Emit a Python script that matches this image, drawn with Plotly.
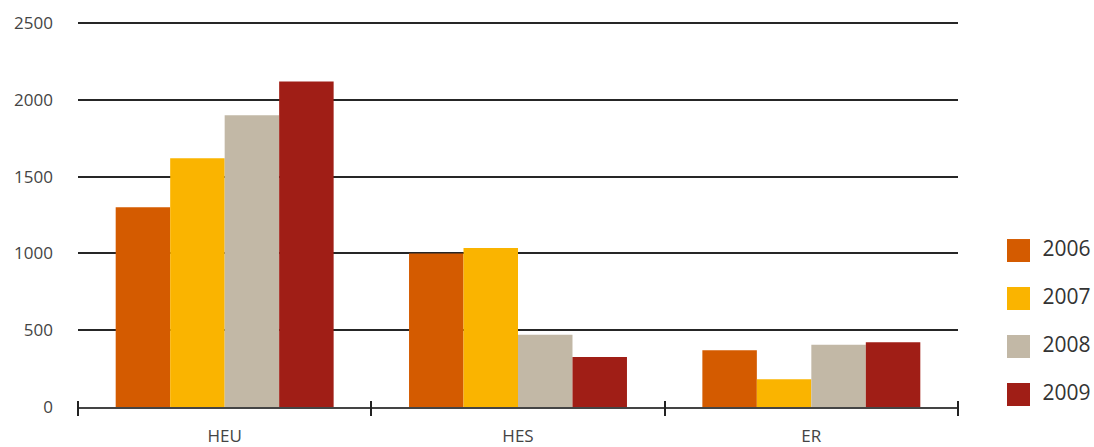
import plotly.graph_objects as go

# Categories and yearly series
categories = ["HEU", "HES", "ER"]
years = ["2006", "2007", "2008", "2009"]
values_2006 = [1300, 1000, 370]
values_2007 = [1620, 1035, 180]
values_2008 = [1900, 470, 405]
values_2009 = [2120, 325, 422]
y_ticks = [0, 500, 1000, 1500, 2000, 2500]

series = [values_2006, values_2007, values_2008, values_2009]
colors = ["#D45B00", "#FAB400", "#C2B8A6", "#A01E16"]

W, H = 1094, 447
ML, MB = 78, 40
Y_TOP = 2520
px_per_unit = 384 / 2500
MT = 23 - (Y_TOP - 2500) * px_per_unit
plot_w = W - ML
plot_h = H - MT - MB
main_right = 958

fig = go.Figure()

for name, vals, col in zip(years, series, colors):
    fig.add_trace(go.Bar(
        x=categories, y=vals, name=name, marker=dict(color=col, line=dict(width=0)),
        showlegend=False, xaxis="x", yaxis="y",
    ))

# Custom legend: large squares with the year labels beside them, on a side axis
leg_dom = (0.88, 1.0)
leg_left_px = ML + leg_dom[0] * plot_w
leg_w_px = (leg_dom[1] - leg_dom[0]) * plot_w
sq_center_px = 1018.5
leg_x_range = [leg_left_px - sq_center_px, leg_left_px - sq_center_px + leg_w_px]
row_step = 48
leg_y = [-i * row_step for i in range(len(years))]
first_row_px = 250.5

fig.add_trace(go.Scatter(
    x=[0] * len(years), y=leg_y, mode="markers",
    marker=dict(symbol="square", size=23, color=colors, line=dict(width=0)),
    showlegend=False, xaxis="x2", yaxis="y2", hoverinfo="skip", cliponaxis=False,
))
fig.add_trace(go.Scatter(
    x=[24] * len(years), y=leg_y, mode="text",
    text=years, textposition="middle right",
    textfont=dict(family="Open Sans", size=21, color="#333333"),
    showlegend=False, xaxis="x2", yaxis="y2", hoverinfo="skip", cliponaxis=False,
))

main_dom = (main_right - ML) / plot_w
grid_col = "#262626"

# y range of the legend axis in pixels, with row 0 at first_row_px
y2_top = first_row_px - MT
y2_range = [-(plot_h - y2_top), y2_top]

fig.update_layout(
    width=W, height=H,
    margin=dict(l=ML, r=0, t=MT, b=MB),
    paper_bgcolor="white", plot_bgcolor="white",
    barmode="group", bargap=0.257, bargroupgap=0,
    font=dict(family="Open Sans", color="#444444"),
    xaxis=dict(
        domain=[0, main_dom], type="category", categoryarray=categories,
        ticks="", showline=True, linecolor="#444444", linewidth=2,
        showgrid=False, tickfont=dict(size=17, color="#444444"),
        ticklabelstandoff=13, range=[-0.5, 2.5], anchor="y",
    ),
    # boundary ticks crossing the baseline
    xaxis3=dict(
        domain=[0, main_dom], overlaying="x", anchor="free",
        position=7 / plot_h, range=[-0.5, 2.5],
        tickvals=[-0.5, 0.5, 1.5, 2.5], ticks="outside", ticklen=15, tickwidth=2,
        tickcolor="#222222", showticklabels=False, showgrid=False, showline=False,
        zeroline=False,
    ),
    yaxis=dict(
        range=[0, Y_TOP], tickvals=y_ticks, showgrid=True, gridcolor=grid_col,
        gridwidth=1.6, zeroline=False, showline=False, ticks="",
        tickfont=dict(size=17, color="#444444"), ticklabelstandoff=24,
        anchor="x",
    ),
    xaxis2=dict(domain=list(leg_dom), range=leg_x_range, visible=False, anchor="y2"),
    yaxis2=dict(domain=[0, 1], range=y2_range, visible=False, anchor="x2"),
)

# invisible trace to activate the boundary tick axis
fig.add_trace(go.Scatter(x=[0], y=[0], xaxis="x3", yaxis="y", mode="markers",
                         marker=dict(opacity=0), showlegend=False, hoverinfo="skip"))

fig.write_html("out.html")
